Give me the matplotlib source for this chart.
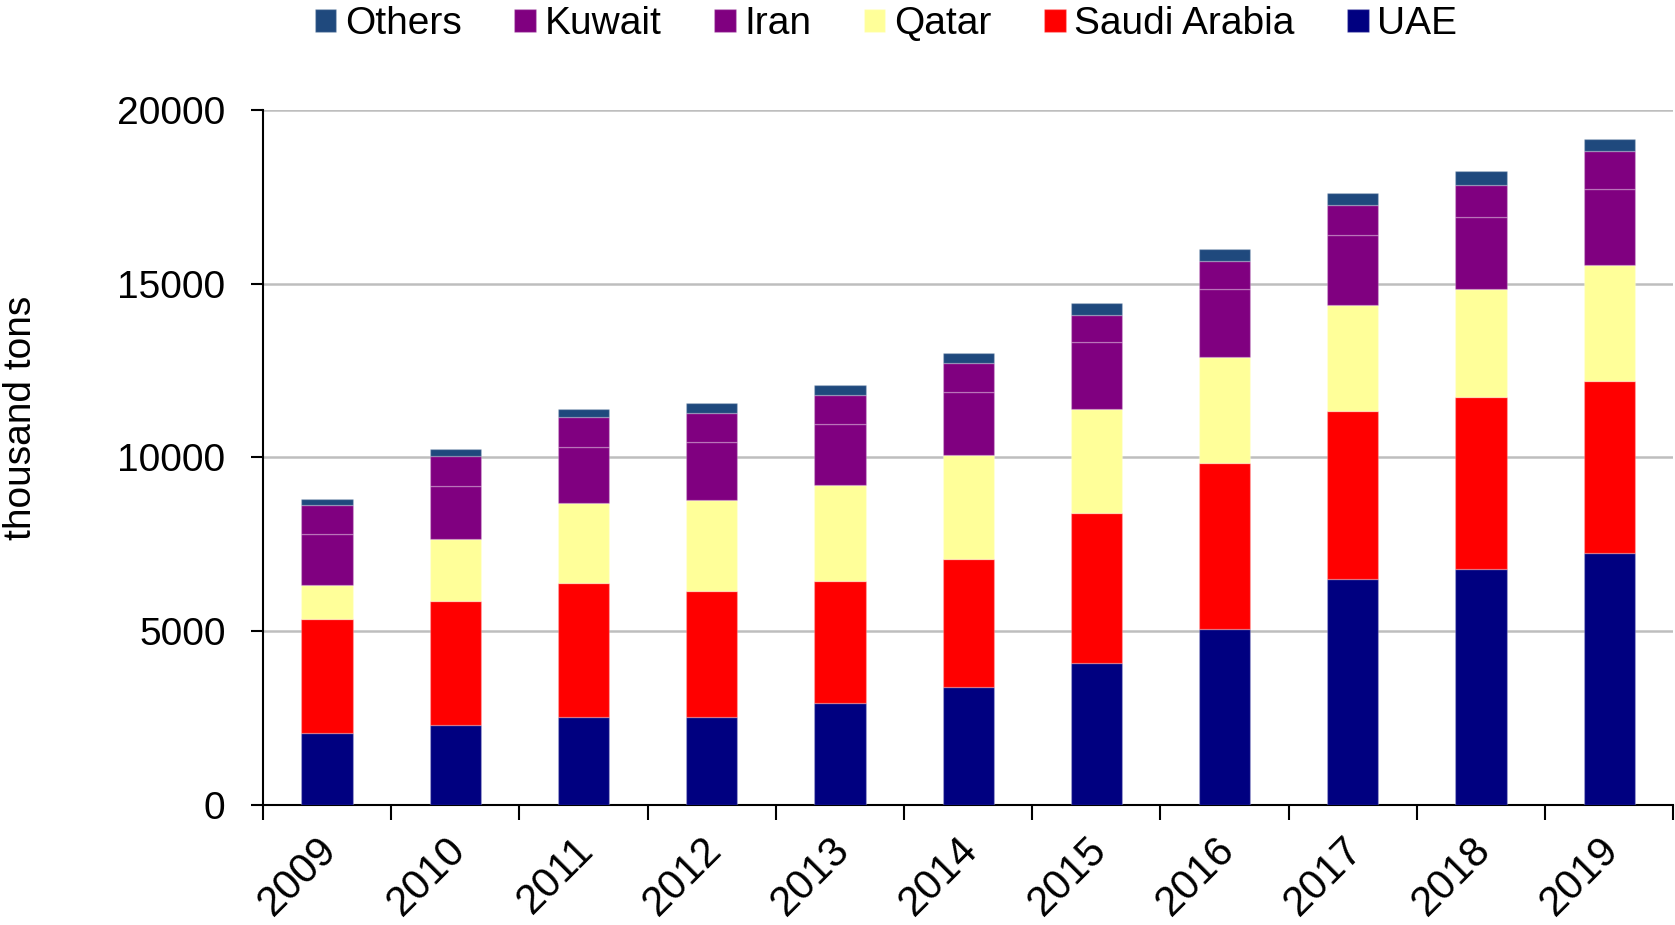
import numpy as np
import matplotlib
matplotlib.use("Agg")
import matplotlib.pyplot as plt

plt.rcParams['font.family'] = ['Liberation Sans', 'DejaVu Sans']

years = ['2009', '2010', '2011', '2012', '2013', '2014', '2015', '2016', '2017', '2018', '2019']

# thousand tons, stacked bottom -> top
uae = [2080, 2310, 2540, 2540, 2940, 3380, 4090, 5070, 6510, 6800, 7260]
saudi = [3270, 3560, 3850, 3620, 3510, 3700, 4320, 4780, 4830, 4940, 4940]
qatar = [990, 1790, 2310, 2600, 2760, 3000, 2990, 3040, 3050, 3100, 3340]
iran = [1450, 1510, 1610, 1670, 1740, 1790, 1910, 1950, 2010, 2080, 2180]
kuwait = [850, 860, 860, 860, 850, 860, 790, 810, 860, 910, 1090]
others = [170, 220, 220, 270, 290, 270, 350, 340, 360, 420, 360]

series = [
    ('UAE', uae, '#000080'),
    ('Saudi Arabia', saudi, '#FF0000'),
    ('Qatar', qatar, '#FFFF99'),
    ('Iran', iran, '#800080'),
    ('Kuwait', kuwait, '#800080'),
    ('Others', others, '#1F497D'),
]

fig = plt.figure(figsize=(16.75, 9.25), dpi=100)
ax = fig.add_axes([0.157, 0.13, 0.842, 0.751])

x = np.arange(len(years))
bottom = np.zeros(len(years))
handles = {}
for name, vals, col in series:
    b = ax.bar(x, vals, width=0.4, bottom=bottom, color=col,
               edgecolor=(1, 1, 1, 0.22), linewidth=1, zorder=3)
    handles[name] = b
    bottom += np.array(vals)

ax.set_xlim(-0.5, len(years) - 0.5)
ax.set_ylim(0, 20000)
ax.set_yticks([0, 5000, 10000, 15000, 20000])
ax.yaxis.grid(True, color='#BEBEBE', linewidth=1.8, zorder=0)
ax.set_axisbelow(True)

# ticks between categories, labels at centres
ax.set_xticks(np.arange(-0.5, len(years)), labels=[])
ax.set_xticks(x + 0.03, labels=years, minor=True)
ax.tick_params(axis='x', which='major', length=11, width=1.5, direction='out')
ax.tick_params(axis='x', which='minor', length=0, pad=28, labelsize=30)
for lab in ax.get_xticklabels(minor=True):
    lab.set_rotation(45)
    lab.set_ha('right')
    lab.set_va('center')
    lab.set_rotation_mode('anchor')
ax.tick_params(axis='y', length=9, width=1.5, pad=18, labelsize=28)

for s in ['top', 'right']:
    ax.spines[s].set_visible(False)
for s in ['left', 'bottom']:
    ax.spines[s].set_linewidth(1.5)

fig.text(21 / 1675, 0.548, 'thousand tons', fontsize=28, rotation=90,
         ha='center', va='center')

order = ['Others', 'Kuwait', 'Iran', 'Qatar', 'Saudi Arabia', 'UAE']
fig.legend([handles[n] for n in order], order, loc='center', ncol=6,
           bbox_to_anchor=(0.529, 0.974), frameon=False, fontsize=28,
           handlelength=0.55, handleheight=0.55, handletextpad=0.22,
           columnspacing=1.36, borderaxespad=0)

fig.savefig('out.png', dpi=100)
